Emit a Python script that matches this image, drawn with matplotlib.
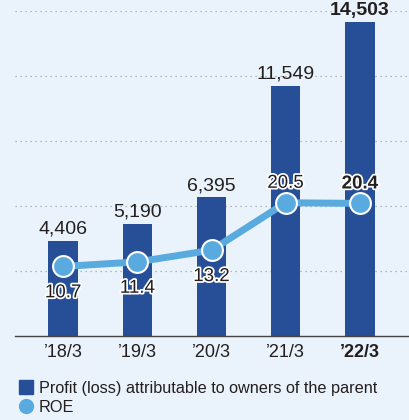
import matplotlib.pyplot as plt
from matplotlib.lines import Line2D
import matplotlib.patheffects as pe

plt.rcParams['font.family'] = ['Liberation Sans', 'DejaVu Sans']

years = ["\u201918/3", "\u201919/3", "\u201920/3", "\u201921/3", "\u201922/3"]
profit = [4406, 5190, 6395, 11549, 14503]
roe = [10.7, 11.4, 13.2, 20.5, 20.4]
roe_above = [False, False, False, True, True]

bg = '#EAF3FB'
bar_c = '#274F97'
line_c = '#58AADF'
txt_c = '#231F20'

fig = plt.figure(figsize=(4.1, 4.2), dpi=100, facecolor=bg)
ax = fig.add_axes([15/410, 0.2, 393/410, 0.7738])
ax.set_facecolor(bg)
x = list(range(len(years)))

ax.bar(x, profit, width=0.4, color=bar_c, zorder=2)
ax.set_xlim(-0.65, 4.65)
ax.set_ylim(0, 15000)
ax.set_yticks([3000, 6000, 9000, 12000, 15000])
ax.yaxis.grid(True, linestyle=(0, (1, 3)), color='#A0A4A8', linewidth=0.9, zorder=0)
ax.set_xticks(x)
ax.set_xticklabels(years, fontsize=13, color=txt_c)
ax.get_xticklabels()[-1].set_fontweight('bold')
for s in ['top', 'right', 'left']:
    ax.spines[s].set_visible(False)
ax.spines['bottom'].set_color('#444444')
ax.spines['bottom'].set_linewidth(1)

for i, v in enumerate(profit):
    ax.annotate(f"{v:,}", (i, v), xytext=(0, 2), textcoords='offset points',
                ha='center', va='bottom', fontsize=14, color=txt_c,
                fontweight='bold' if i == len(profit) - 1 else 'normal')

ax2 = ax.twinx()
ax2.set_ylim(0, 50)
ax2.axis('off')
ax.tick_params(axis='y', left=False, right=False, labelleft=False, labelright=False)
ax.tick_params(axis='x', length=0, pad=6)
ax2.plot(x, roe, color=line_c, linewidth=5, marker='o', markersize=15,
         markerfacecolor=line_c, markeredgecolor='white', markeredgewidth=1.5, zorder=3)
for i, v in enumerate(roe):
    off = 14 if roe_above[i] else -19
    ax2.annotate(f"{v}", (i, v), xytext=(0, off), textcoords='offset points',
                 ha='center', va='center', fontsize=13.5, color=txt_c,
                 fontweight='bold' if i == len(roe) - 1 else 'normal',
                 path_effects=[pe.withStroke(linewidth=2.5, foreground='white')], zorder=4)

handles = [Line2D([], [], marker='s', linestyle='none', markersize=10, color=bar_c),
           Line2D([], [], marker='o', linestyle='none', markersize=10, color=line_c)]
fig.legend(handles, ["Profit (loss) attributable to owners of the parent", "ROE"],
           loc='upper left', bbox_to_anchor=(0.025, 0.112), frameon=False, fontsize=11.7,
           handlelength=0.9, handletextpad=0.35, labelspacing=0.25, borderpad=0,
           labelcolor=txt_c)

fig.savefig('out.png', dpi=100, facecolor=bg)
